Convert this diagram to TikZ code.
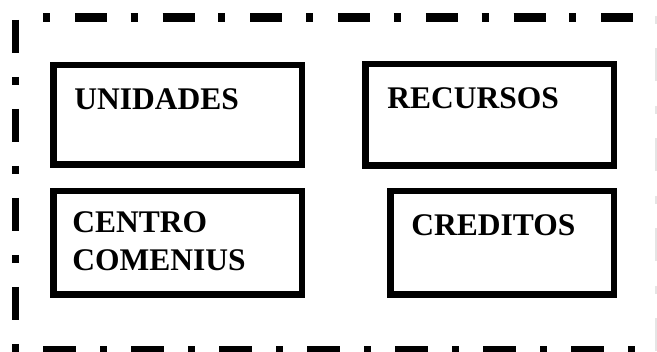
\documentclass[tikz,border=0pt]{standalone}
\usepackage{fontspec}
\setmainfont{Liberation Serif}
\usetikzlibrary{positioning, calc}

\begin{document}
\begin{tikzpicture}[
    x=1pt, y=1pt,
    unitbox/.style={draw=black, line width=6.5pt, outer sep=0pt,
                    minimum width=248.5pt, minimum height=100pt},
    boxtitle/.style={font=\fontsize{31.5}{38}\selectfont\bfseries,
                     inner sep=0pt, anchor=base west, align=left},
    framedash/.style={line width=#1, line cap=butt},
  ]

  % fixes the page to the reference size
  \useasboundingbox (0,0) rectangle (657,352);

  % ===== FRAME (dash-dot) =====
  \coordinate (tl) at (43,334);
  \coordinate (tr) at (640,334);
  \coordinate (lt) at (15,332);
  \coordinate (lb) at (15,0);
  \coordinate (bl) at (12,1);
  \coordinate (br) at (657,1);
  \coordinate (rt) at (656,339);
  \coordinate (rb) at (656,0);

  \draw[framedash=9pt, dash pattern=on 7pt off 25pt on 32pt off 23.7pt] (tl) -- (tr);
  \draw[framedash=7pt, dash pattern=on 33pt off 24pt on 8pt off 24pt] (lt) -- (lb);
  \draw[framedash=9pt, dash pattern=on 7pt off 24pt on 33pt off 24pt] (bl) -- (br);
  \draw[framedash=1.2pt, draw=black!10,
        dash pattern=on 33pt off 25pt on 8pt off 24pt, dash phase=55pt] (rt) -- (rb);

  % ===== BOXES =====
  \node[unitbox, minimum height=99.5pt] (unid) at (177.5,237) {};
  \node[unitbox, minimum height=101.5pt, right=63.5pt of unid] (recu) {};
  \node[unitbox, minimum height=103.5pt] (cent) at (177.5,109) {};
  \node[unitbox, minimum width=223.5pt, minimum height=103.5pt,
        right=88.5pt of cent] (cred) {};

  % ===== TITLES =====
  \node[boxtitle] (unidT) at ($(unid.north west)+(21pt,-44.75pt)$) {UNIDADES};
  \node[boxtitle] (recuT) at ($(recu.north west)+(22pt,-44.75pt)$) {RECURSOS};
  % base of a two-line node is its last line
  \node[boxtitle] (centT) at ($(cent.north west)+(19pt,-79.75pt)$) {CENTRO\\COMENIUS};
  \node[boxtitle] (credT) at ($(cred.north west)+(21pt,-44.75pt)$) {CREDITOS};

\end{tikzpicture}
\end{document}
